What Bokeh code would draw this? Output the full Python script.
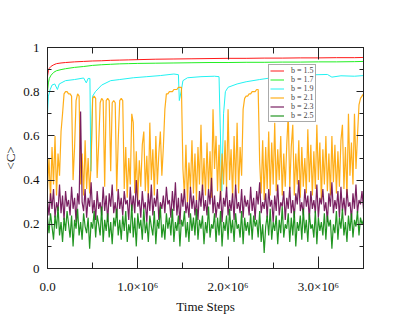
import numpy as np
from bokeh.plotting import figure
from bokeh.models import (FixedTicker, LinearAxis, Legend, LegendItem, Range1d)
from bokeh.embed import file_html
from bokeh.resources import INLINE

# ---------------- data ----------------
x_ticks = [0, 1000000, 2000000, 3000000]
x_tick_labels = ["0.0", "1.0×10⁶", "2.0×10⁶", "3.0×10⁶"]
x_minor = [500000, 1500000, 2500000, 3500000]
y_ticks = [0, 0.2, 0.4, 0.6, 0.8, 1.0]
y_tick_labels = ["0", "0.2", "0.4", "0.6", "0.8", "1"]
y_minor = [0.1, 0.3, 0.5, 0.7, 0.9]

series_names = ["b = 1.5", "b = 1.7", "b = 1.9", "b = 2.1", "b = 2.3", "b = 2.5"]

# time (in 1e6 steps) for the smooth series
t_smooth = [0, 0.01, 0.02, 0.04, 0.07, 0.1, 0.15, 0.2, 0.3, 0.4, 0.5, 0.6, 0.7, 0.8,
            0.9, 1.0, 1.2, 1.4, 1.6, 1.8, 2.0, 2.2, 2.4, 2.6, 2.8, 3.0, 3.2, 3.4, 3.5]
c_b15 = [0.87, 0.895, 0.906, 0.915, 0.922, 0.927, 0.930, 0.932, 0.935, 0.937, 0.939,
         0.940, 0.942, 0.943, 0.944, 0.945, 0.947, 0.948, 0.949, 0.950, 0.951, 0.951,
         0.952, 0.952, 0.953, 0.953, 0.954, 0.954, 0.955]
c_b17 = [0.80, 0.84, 0.86, 0.875, 0.888, 0.895, 0.900, 0.904, 0.910, 0.914, 0.919,
         0.922, 0.924, 0.926, 0.927, 0.928, 0.929, 0.930, 0.931, 0.932, 0.932, 0.933,
         0.933, 0.934, 0.934, 0.935, 0.935, 0.936, 0.937]

t_b19 = [0, 0.01, 0.03, 0.05, 0.08, 0.11, 0.13, 0.2, 0.3, 0.4, 0.43, 0.45, 0.47, 0.48,
         0.49, 0.5, 0.53, 0.6, 0.7, 0.8, 0.95, 1.1, 1.25, 1.4, 1.45, 1.46, 1.48, 1.5,
         1.55, 1.7, 1.85, 1.9, 1.93, 1.95, 1.97, 2.0, 2.1, 2.2, 2.35, 2.5, 2.7, 2.9,
         3.1, 3.15, 3.25, 3.4, 3.5]
c_b19 = [0.70, 0.78, 0.81, 0.83, 0.835, 0.81, 0.835, 0.85, 0.855, 0.862, 0.84, 0.86,
         0.86, 0.44, 0.60, 0.78, 0.80, 0.83, 0.85, 0.855, 0.863, 0.868, 0.873, 0.88,
         0.877, 0.76, 0.80, 0.85, 0.863, 0.868, 0.870, 0.868, 0.35, 0.70, 0.80, 0.82,
         0.835, 0.845, 0.855, 0.864, 0.872, 0.876, 0.878, 0.866, 0.872, 0.870, 0.873]

# noisy series, equally spaced samples over 0 .. 3.5e6
c_b21 = [0.36, 0.50, 0.31, 0.55, 0.38, 0.60, 0.33, 0.52, 0.42, 0.62,
         0.70, 0.79, 0.80, 0.80, 0.79, 0.79, 0.78, 0.40, 0.55, 0.76,
         0.79, 0.78, 0.38, 0.52, 0.33, 0.58, 0.36, 0.50, 0.34, 0.48,
         0.77, 0.78, 0.77, 0.41, 0.56, 0.75, 0.77, 0.76, 0.37, 0.76,
         0.77, 0.76, 0.44, 0.75, 0.76, 0.75, 0.35, 0.58, 0.76, 0.77,
         0.76, 0.36, 0.55, 0.32, 0.50, 0.38, 0.70, 0.66, 0.34, 0.53,
         0.31, 0.49, 0.37, 0.56, 0.62, 0.35, 0.51, 0.32, 0.66, 0.40,
         0.54, 0.33, 0.60, 0.38, 0.52, 0.62, 0.42, 0.55, 0.72, 0.79,
         0.79, 0.80, 0.80, 0.80, 0.81, 0.81, 0.81, 0.82, 0.82, 0.82,
         0.45, 0.33, 0.56, 0.30, 0.48, 0.36, 0.58, 0.34, 0.52, 0.31,
         0.55, 0.38, 0.65, 0.35, 0.50, 0.33, 0.57, 0.36, 0.53, 0.32,
         0.72, 0.45, 0.60, 0.35, 0.56, 0.31, 0.52, 0.38, 0.58, 0.36,
         0.72, 0.40, 0.54, 0.32, 0.60, 0.37, 0.66, 0.34, 0.55, 0.42,
         0.72, 0.77, 0.78, 0.78, 0.79, 0.79, 0.80, 0.80, 0.80, 0.81,
         0.81, 0.48, 0.34, 0.58, 0.31, 0.55, 0.36, 0.62, 0.33, 0.57,
         0.38, 0.66, 0.35, 0.54, 0.40, 0.60, 0.33, 0.52, 0.37, 0.56,
         0.70, 0.36, 0.55, 0.65, 0.33, 0.52, 0.38, 0.58, 0.32, 0.55,
         0.37, 0.50, 0.34, 0.63, 0.39, 0.56, 0.33, 0.53, 0.36, 0.65,
         0.40, 0.57, 0.31, 0.54, 0.38, 0.60, 0.35, 0.52, 0.33, 0.60,
         0.39, 0.56, 0.34, 0.53, 0.37, 0.58, 0.65, 0.36, 0.55, 0.32,
         0.70, 0.42, 0.57, 0.38, 0.70, 0.45, 0.60, 0.74, 0.77, 0.78, 0.79]
c_b23 = [0.31, 0.24, 0.34, 0.27, 0.36, 0.23, 0.30, 0.26, 0.38, 0.25,
         0.33, 0.22, 0.35, 0.28, 0.31, 0.24, 0.37, 0.27, 0.32, 0.21,
         0.34, 0.29, 0.71, 0.30, 0.26, 0.36, 0.23, 0.32, 0.28, 0.39,
         0.25, 0.31, 0.22, 0.35, 0.27, 0.30, 0.24, 0.37, 0.26, 0.33,
         0.21, 0.34, 0.28, 0.38, 0.25, 0.30, 0.23, 0.36, 0.27, 0.32,
         0.24, 0.35, 0.29, 0.31, 0.22, 0.37, 0.26, 0.33, 0.25, 0.40,
         0.28, 0.31, 0.23, 0.35, 0.27, 0.30, 0.21, 0.34, 0.26, 0.38,
         0.24, 0.32, 0.28, 0.36, 0.22, 0.30, 0.27, 0.33, 0.25, 0.37,
         0.29, 0.31, 0.23, 0.35, 0.26, 0.39, 0.24, 0.32, 0.20, 0.34,
         0.28, 0.36, 0.25, 0.30, 0.23, 0.37, 0.27, 0.33, 0.24, 0.31,
         0.22, 0.35, 0.28, 0.38, 0.26, 0.31, 0.24, 0.36, 0.29, 0.41,
         0.25, 0.33, 0.23, 0.30, 0.27, 0.35, 0.21, 0.32, 0.28, 0.37,
         0.24, 0.31, 0.26, 0.34, 0.22, 0.38, 0.27, 0.30, 0.25, 0.36,
         0.23, 0.33, 0.28, 0.31, 0.24, 0.37, 0.26, 0.32, 0.22, 0.35,
         0.29, 0.39, 0.25, 0.30, 0.27, 0.34, 0.23, 0.36, 0.28, 0.31,
         0.21, 0.33, 0.26, 0.38, 0.24, 0.30, 0.28, 0.35, 0.22, 0.32,
         0.27, 0.37, 0.25, 0.31, 0.23, 0.34, 0.29, 0.40, 0.26, 0.30,
         0.24, 0.36, 0.28, 0.33, 0.22, 0.35, 0.27, 0.31, 0.25, 0.38,
         0.23, 0.32, 0.29, 0.36, 0.26, 0.30, 0.21, 0.34, 0.28, 0.39,
         0.25, 0.31, 0.27, 0.35, 0.23, 0.37, 0.26, 0.32, 0.24, 0.36,
         0.28, 0.30, 0.22, 0.34, 0.27, 0.38, 0.25, 0.31, 0.29, 0.35, 0.27]
c_b25 = [0.23, 0.16, 0.25, 0.19, 0.13, 0.24, 0.18, 0.28, 0.15, 0.21,
         0.12, 0.23, 0.17, 0.26, 0.20, 0.14, 0.24, 0.10, 0.22, 0.18,
         0.27, 0.15, 0.21, 0.13, 0.25, 0.19, 0.16, 0.23, 0.09, 0.21,
         0.18, 0.26, 0.14, 0.24, 0.20, 0.15, 0.28, 0.12, 0.22, 0.17,
         0.25, 0.14, 0.21, 0.11, 0.23, 0.19, 0.27, 0.15, 0.22, 0.13,
         0.24, 0.17, 0.26, 0.12, 0.20, 0.16, 0.29, 0.14, 0.23, 0.10,
         0.25, 0.18, 0.22, 0.13, 0.27, 0.16, 0.21, 0.12, 0.24, 0.19,
         0.15, 0.26, 0.11, 0.22, 0.18, 0.28, 0.14, 0.20, 0.13, 0.25,
         0.18, 0.23, 0.15, 0.27, 0.12, 0.21, 0.17, 0.24, 0.10, 0.22,
         0.19, 0.26, 0.14, 0.21, 0.12, 0.25, 0.17, 0.23, 0.15, 0.27,
         0.13, 0.22, 0.18, 0.24, 0.11, 0.21, 0.16, 0.28, 0.14, 0.20,
         0.18, 0.25, 0.12, 0.23, 0.15, 0.26, 0.10, 0.21, 0.17, 0.24,
         0.13, 0.27, 0.16, 0.22, 0.12, 0.25, 0.18, 0.20, 0.14, 0.26,
         0.11, 0.23, 0.17, 0.21, 0.15, 0.25, 0.13, 0.24, 0.19, 0.22,
         0.14, 0.26, 0.12, 0.20, 0.07, 0.19, 0.24, 0.15, 0.27, 0.13,
         0.21, 0.17, 0.24, 0.11, 0.22, 0.16, 0.28, 0.14, 0.20, 0.18,
         0.25, 0.12, 0.23, 0.15, 0.26, 0.10, 0.21, 0.17, 0.24, 0.13,
         0.27, 0.16, 0.22, 0.12, 0.25, 0.18, 0.20, 0.14, 0.26, 0.11,
         0.23, 0.17, 0.21, 0.15, 0.25, 0.13, 0.24, 0.19, 0.22, 0.09,
         0.20, 0.16, 0.26, 0.13, 0.23, 0.18, 0.27, 0.15, 0.21, 0.12,
         0.24, 0.17, 0.25, 0.14, 0.22, 0.19, 0.26, 0.15, 0.23, 0.20, 0.22]

colors = ["#ff1a1a", "#22ee22", "#22f2f2", "#ffa500", "#6a0850", "#0a8a0a"]

# ---------------- figure ----------------
FONT = "Liberation Serif"
p = figure(width=409, height=316, output_backend="svg", toolbar_location=None,
           x_range=Range1d(0, 3500000), y_range=Range1d(0, 1),
           min_border_left=47, min_border_right=46, min_border_top=47,
           min_border_bottom=48, x_axis_label="Time Steps", y_axis_label="<C>")
p.grid.visible = False
p.outline_line_color = "#222222"
p.outline_line_width = 1
p.background_fill_color = "white"
p.border_fill_color = "white"

def scale(ts):
    return [v * 1e6 for v in ts]

renderers = []
renderers.append(p.line(scale(t_smooth), c_b15, line_color=colors[0], line_width=1))
renderers.append(p.line(scale(t_smooth), c_b17, line_color=colors[1], line_width=1))
renderers.append(p.line(scale(t_b19), c_b19, line_color=colors[2], line_width=1))
for vals, col in zip([c_b21, c_b23, c_b25], colors[3:]):
    tt = np.linspace(0, 3500000, len(vals))
    renderers.append(p.line(tt, vals, line_color=col, line_width=1.2, line_alpha=0.9))

def style_axis(ax, major_in, minor_in):
    ax.axis_line_color = "#222222"
    ax.major_tick_line_color = "#222222"
    ax.minor_tick_line_color = "#222222"
    ax.major_tick_in = major_in
    ax.major_tick_out = 0
    ax.minor_tick_in = minor_in
    ax.minor_tick_out = 0
    ax.major_label_text_font = FONT
    ax.major_label_text_font_size = "13px"
    ax.major_label_text_color = "#111111"
    ax.axis_label_text_font = FONT
    ax.axis_label_text_font_size = "13px"
    ax.axis_label_text_font_style = "normal"
    ax.axis_label_text_color = "#111111"

xa = p.xaxis[0]
xa.ticker = FixedTicker(ticks=x_ticks, minor_ticks=x_minor)
xa.major_label_overrides = {k: v for k, v in zip(x_ticks, x_tick_labels)}
style_axis(xa, 12, 6)
xa.major_label_standoff = 10
xa.axis_label_standoff = 2

ya = p.yaxis[0]
ya.ticker = FixedTicker(ticks=y_ticks, minor_ticks=y_minor)
ya.major_label_overrides = {k: v for k, v in zip(y_ticks, y_tick_labels)}
style_axis(ya, 7, 4)
ya.major_label_standoff = 8
ya.axis_label_standoff = 2

top = LinearAxis(ticker=FixedTicker(ticks=x_ticks, minor_ticks=x_minor))
style_axis(top, 12, 6)
top.major_label_overrides = {k: "" for k in x_ticks}
top.major_label_standoff = 0
p.add_layout(top, "above")
right = LinearAxis(ticker=FixedTicker(ticks=y_ticks, minor_ticks=y_minor))
style_axis(right, 7, 4)
right.major_label_overrides = {k: "" for k in y_ticks}
right.major_label_standoff = 0
p.add_layout(right, "right")

legend = Legend(items=[LegendItem(label=n, renderers=[r]) for n, r in zip(series_names, renderers)],
                location=(221, 146), orientation="vertical",
                label_text_font=FONT, label_text_font_size="8px",
                label_height=9, glyph_height=9, glyph_width=14, spacing=0,
                padding=1, margin=0, label_standoff=7,
                border_line_color="#555555", border_line_width=1,
                background_fill_color="white", background_fill_alpha=1)
p.add_layout(legend, "center")

open("out.html", "w").write(file_html(p, INLINE))
